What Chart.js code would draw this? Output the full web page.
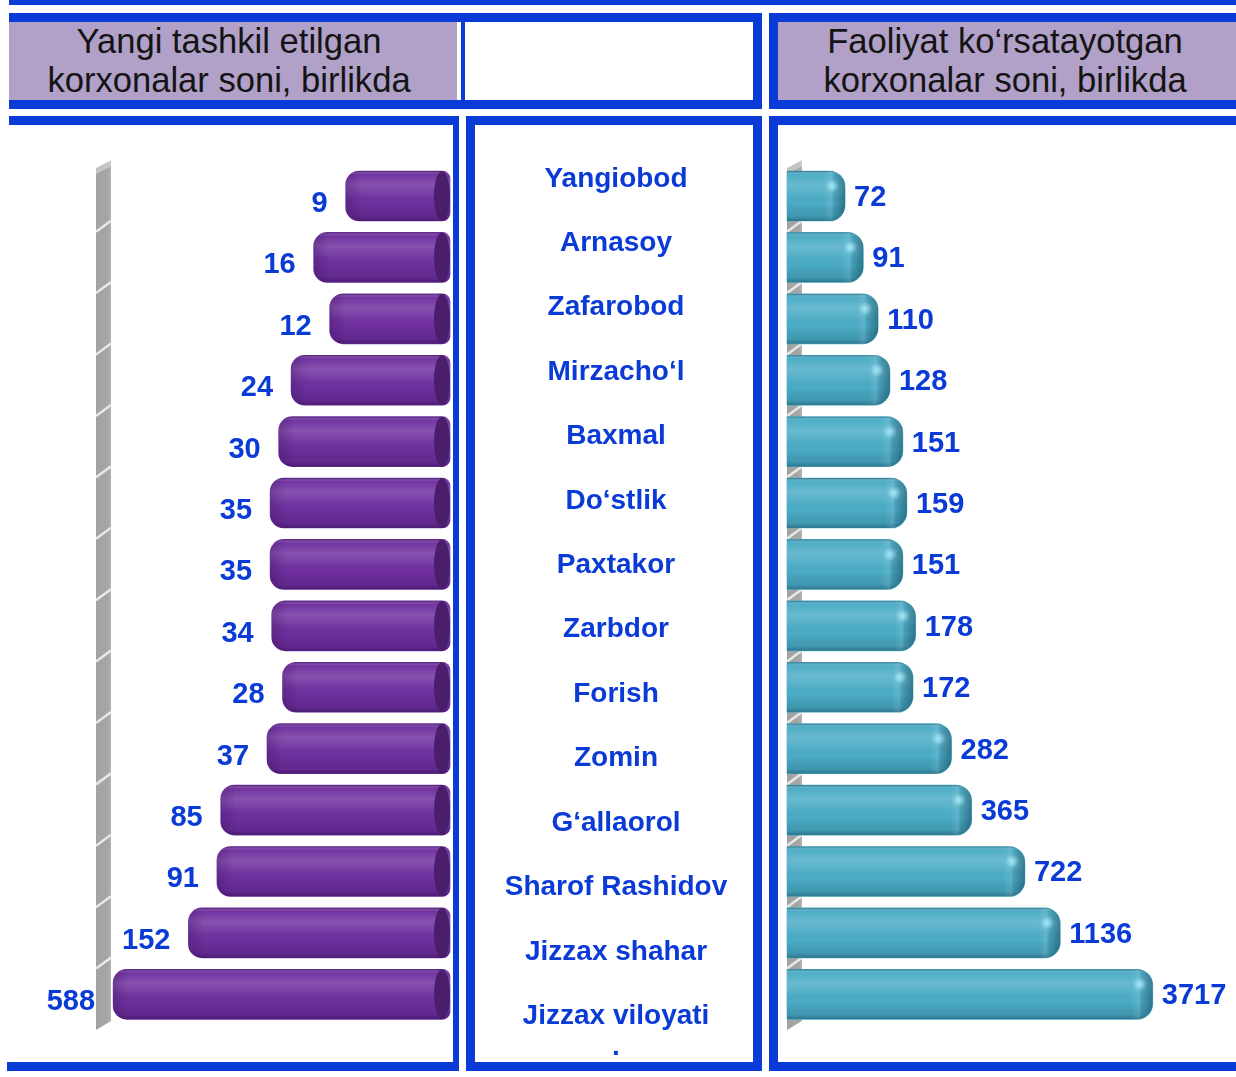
<!DOCTYPE html>
<html>
<head>
<meta charset="utf-8">
<script src="https://cdn.jsdelivr.net/npm/chart.js@4.4.1/dist/chart.umd.min.js"></script>
<style>
  html, body { margin: 0; padding: 0; background: #fff; }
  body { width: 1236px; height: 1077px; position: relative; overflow: hidden;
         font-family: "Liberation Sans", Arial, sans-serif; }
  .b { position: absolute; background: #0b3bd6; }
  .w { position: absolute; background: #fff; }
  .lav { position: absolute; background: #b1a0c7; }
  .head { position: absolute; display: flex; flex-direction: column; align-items: center;
          justify-content: center; font-size: 34.6px; line-height: 39px; color: #141414;
          text-align: center; white-space: nowrap; }
  canvas { position: absolute; }
</style>
</head>
<body>
<!-- top rule -->
<div class="b" style="left:9px;top:0;width:1227px;height:5px"></div>

<!-- header frame: left title + empty middle cell -->
<div class="b" style="left:9px;top:13px;width:753px;height:96px"></div>
<div class="lav" style="left:9px;top:22px;width:448px;height:78px"></div>
<div class="w" style="left:457px;top:22px;width:4px;height:78px"></div>
<div class="w" style="left:465px;top:22px;width:288px;height:78px"></div>
<div class="head" style="left:5px;top:22px;width:448px;height:78px">
  <div>Yangi tashkil etilgan</div><div>korxonalar soni, birlikda</div>
</div>

<!-- header frame: right title -->
<div class="b" style="left:769px;top:13px;width:467px;height:96px"></div>
<div class="lav" style="left:778px;top:22px;width:458px;height:78px"></div>
<div class="head" style="left:774px;top:22px;width:462px;height:78px">
  <div>Faoliyat ko‘rsatayotgan</div><div>korxonalar soni, birlikda</div>
</div>

<!-- left panel frame -->
<div class="b" style="left:9px;top:116px;width:450px;height:9px"></div>
<div class="b" style="left:453px;top:116px;width:6px;height:955px"></div>
<div class="b" style="left:7px;top:1062px;width:452px;height:9px"></div>

<!-- middle panel frame -->
<div class="b" style="left:466px;top:116px;width:296px;height:955px"></div>
<div class="w" style="left:475px;top:125px;width:278px;height:937px"></div>

<!-- right panel frame -->
<div class="b" style="left:769px;top:116px;width:9px;height:955px"></div>
<div class="b" style="left:769px;top:116px;width:467px;height:9px"></div>
<div class="b" style="left:769px;top:1062px;width:467px;height:9px"></div>

<canvas id="leftChart" width="452" height="935" style="left:0;top:126px"></canvas>
<canvas id="midChart" width="278" height="935" style="left:475px;top:126px"></canvas>
<canvas id="rightChart" width="458" height="935" style="left:778px;top:126px"></canvas>

<script>
// Districts of Jizzax region, top to bottom
const categories = ['Yangiobod', 'Arnasoy', 'Zafarobod', 'Mirzacho‘l', 'Baxmal', 'Do‘stlik',
  'Paxtakor', 'Zarbdor', 'Forish', 'Zomin', 'G‘allaorol', 'Sharof Rashidov', 'Jizzax shahar',
  ['Jizzax viloyati', '.']];
// Newly established enterprises, units
const newFirms = [9, 16, 12, 24, 30, 35, 35, 34, 28, 37, 85, 91, 152, 588];
// Operating enterprises, units
const activeFirms = [72, 91, 110, 128, 151, 159, 151, 178, 172, 282, 365, 722, 1136, 3717];
// Logarithmic axis limits [min, max]
const newFirmsAxis = [1.38, 600];
const activeFirmsAxis = [34.2, 10000];

const BLUE = '#0b3bd6';
const FONT = '"Liberation Sans", Arial, sans-serif';

// grey back wall with diagonal category marks
const wallPlugin = {
  id: 'wall',
  beforeDatasetsDraw(chart, args, opts) {
    const { ctx, chartArea: a, scales: { y } } = chart;
    const x1 = opts.side === 'left' ? a.left - 16 : a.left;
    const x2 = x1 + 15;
    ctx.save();
    ctx.beginPath();
    ctx.moveTo(x1, a.top + 3);
    ctx.lineTo(x2, a.top - 5);
    ctx.lineTo(x2, a.bottom - 4);
    ctx.lineTo(x1, a.bottom + 5);
    ctx.closePath();
    const g = ctx.createLinearGradient(x1, 0, x2, 0);
    g.addColorStop(0, '#a2a2a2');
    g.addColorStop(0.8, '#a6a6a6');
    g.addColorStop(1, '#b4b4b4');
    ctx.fillStyle = g;
    ctx.fill();
    ctx.clip();
    const step = y.getPixelForValue(1) - y.getPixelForValue(0);
    ctx.strokeStyle = 'rgba(240,240,240,0.9)';
    ctx.lineWidth = 2.5;
    for (let i = 1; i < chart.data.labels.length; i++) {
      const yb = y.getPixelForValue(i) - step / 2;
      ctx.beginPath();
      ctx.moveTo(x1, yb + 5);
      ctx.lineTo(x2, yb - 6);
      ctx.stroke();
    }
    // light top face
    ctx.fillStyle = 'rgba(255,255,255,0.35)';
    ctx.beginPath();
    ctx.moveTo(x1, a.top + 3);
    ctx.lineTo(x2, a.top - 5);
    ctx.lineTo(x2, a.top + 1);
    ctx.lineTo(x1, a.top + 9);
    ctx.closePath();
    ctx.fill();
    ctx.restore();
  }
};

// cylinder shading on top of each bar
const shadePlugin = {
  id: 'shade',
  afterDatasetsDraw(chart, args, opts) {
    const ctx = chart.ctx;
    const meta = chart.getDatasetMeta(0);
    meta.data.forEach(el => {
      const { x, y, base, height } = el.getProps(['x', 'y', 'base', 'height'], true);
      const l = Math.min(x, base), r = Math.max(x, base), t = y - height / 2, h = height;
      ctx.save();
      ctx.beginPath();
      if (opts.side === 'left') ctx.roundRect(l, t, r - l, h, [14, 8, 8, 14]);
      else ctx.roundRect(l, t, r - l, h, [0, 16, 16, 0]);
      ctx.clip();
      const dark = opts.side === 'left' ? '40,8,70' : '15,65,85';
      const g = ctx.createLinearGradient(0, t, 0, t + h);
      g.addColorStop(0, `rgba(${dark},0.55)`);
      g.addColorStop(0.07, 'rgba(255,255,255,0.02)');
      g.addColorStop(0.28, 'rgba(255,255,255,0.16)');
      g.addColorStop(0.45, 'rgba(255,255,255,0.07)');
      g.addColorStop(0.65, 'rgba(0,0,0,0)');
      g.addColorStop(0.9, `rgba(${dark},0.18)`);
      g.addColorStop(1, `rgba(${dark},0.5)`);
      ctx.fillStyle = g;
      ctx.fillRect(l, t, r - l, h);
      if (opts.side === 'left') {
        // flat end cap at the base
        ctx.beginPath();
        ctx.ellipse(r - 8, y, 8, h / 2, 0, 0, Math.PI * 2);
        ctx.fillStyle = '#4b1e6c';
        ctx.fill();
        const e = ctx.createLinearGradient(l, 0, l + 16, 0);
        e.addColorStop(0, 'rgba(40,8,70,0.25)');
        e.addColorStop(1, 'rgba(40,8,70,0)');
        ctx.fillStyle = e;
        ctx.fillRect(l, t, 16, h);
      } else {
        // rounded end with a highlight
        const e = ctx.createLinearGradient(r - 22, 0, r, 0);
        e.addColorStop(0, 'rgba(255,255,255,0)');
        e.addColorStop(0.35, 'rgba(255,255,255,0.1)');
        e.addColorStop(0.5, `rgba(${dark},0.12)`);
        e.addColorStop(1, `rgba(${dark},0.5)`);
        ctx.fillStyle = e;
        ctx.fillRect(r - 22, t, 22, h);
        const sx = r - 13, sy = t + h * 0.3;
        const s = ctx.createRadialGradient(sx, sy, 0, sx, sy, 7);
        s.addColorStop(0, 'rgba(170,240,255,0.85)');
        s.addColorStop(1, 'rgba(170,240,255,0)');
        ctx.fillStyle = s;
        ctx.fillRect(sx - 8, sy - 8, 16, 16);
      }
      ctx.restore();
    });
  }
};

// value next to the head of each bar
const valuePlugin = {
  id: 'values',
  afterDatasetsDraw(chart, args, opts) {
    const ctx = chart.ctx;
    const meta = chart.getDatasetMeta(0);
    const data = chart.data.datasets[0].data;
    ctx.save();
    ctx.font = 'bold 29px ' + FONT;
    ctx.fillStyle = BLUE;
    ctx.textBaseline = 'middle';
    meta.data.forEach((el, i) => {
      if (opts.side === 'left') {
        ctx.textAlign = 'right';
        ctx.fillText(String(data[i]), el.x - 18, el.y + 8);
      } else {
        ctx.textAlign = 'left';
        ctx.fillText(String(data[i]), el.x + 9, el.y + 2);
      }
    });
    ctx.restore();
  }
};

// district names in the middle column
const namePlugin = {
  id: 'names',
  afterDraw(chart) {
    const { ctx, chartArea: a, scales: { y } } = chart;
    ctx.save();
    ctx.font = 'bold 28px ' + FONT;
    ctx.fillStyle = BLUE;
    ctx.textAlign = 'center';
    ctx.textBaseline = 'middle';
    const cx = (a.left + a.right) / 2;
    chart.data.labels.forEach((lab, i) => {
      const lines = Array.isArray(lab) ? lab : [lab];
      const yy = y.getPixelForValue(i);
      lines.forEach((s, k) => ctx.fillText(s, cx, yy + k * 31));
    });
    ctx.restore();
  }
};

function barChart(id, values, axis, side) {
  const left = side === 'left';
  return new Chart(document.getElementById(id), {
    type: 'bar',
    data: {
      labels: categories,
      datasets: [{
        data: values,
        backgroundColor: left ? '#7030a0' : '#4bacc6',
        borderWidth: 0,
        borderSkipped: false,
        borderRadius: left
          ? { topLeft: 14, bottomLeft: 14, topRight: 8, bottomRight: 8 }
          : { topLeft: 0, bottomLeft: 0, topRight: 16, bottomRight: 16 },
        barThickness: 50,
        clip: false
      }]
    },
    options: {
      indexAxis: 'y',
      responsive: false,
      animation: false,
      devicePixelRatio: 1,
      layout: { padding: left
        ? { left: 112, right: 2, top: 39.3, bottom: 36 }
        : { left: 9, right: 6, top: 39.3, bottom: 36 } },
      scales: {
        x: { type: 'logarithmic', min: axis[0], max: axis[1], bounds: 'data',
             reverse: left, display: false },
        y: { type: 'category', display: false }
      },
      plugins: {
        legend: { display: false },
        tooltip: { enabled: false },
        wall: { side },
        shade: { side },
        values: { side }
      }
    },
    plugins: [wallPlugin, shadePlugin, valuePlugin]
  });
}

barChart('leftChart', newFirms, newFirmsAxis, 'left');
barChart('rightChart', activeFirms, activeFirmsAxis, 'right');

new Chart(document.getElementById('midChart'), {
  type: 'bar',
  data: { labels: categories, datasets: [{ data: [] }] },
  options: {
    indexAxis: 'y',
    responsive: false,
    animation: false,
    devicePixelRatio: 1,
    layout: { padding: { left: 4, right: 0, top: 20.6, bottom: 12.5 } },
    scales: { x: { display: false }, y: { type: 'category', display: false } },
    plugins: { legend: { display: false }, tooltip: { enabled: false } }
  },
  plugins: [namePlugin]
});
</script>
</body>
</html>
